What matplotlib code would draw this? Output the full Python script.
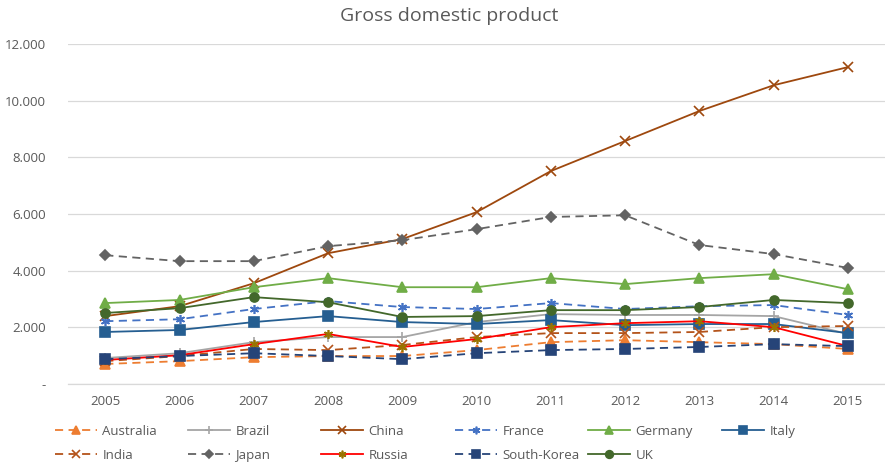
import matplotlib
matplotlib.use("Agg")
import matplotlib.pyplot as plt
from matplotlib.ticker import FuncFormatter

years = ["2005", "2006", "2007", "2008", "2009", "2010", "2011", "2012", "2013", "2014", "2015"]

australia = [710, 810, 950, 990, 990, 1200, 1480, 1550, 1480, 1410, 1240]
brazil = [920, 1090, 1480, 1660, 1660, 2190, 2470, 2440, 2440, 2400, 1770]
china = [2400, 2750, 3560, 4620, 5120, 6070, 7520, 8580, 9640, 10550, 11190]
france = [2220, 2290, 2650, 2930, 2720, 2650, 2860, 2650, 2750, 2790, 2440]
germany = [2860, 2970, 3420, 3740, 3420, 3420, 3740, 3530, 3740, 3880, 3350]
italy = [1840, 1910, 2190, 2400, 2190, 2120, 2260, 2080, 2120, 2120, 1800]
india = [810, 990, 1240, 1200, 1380, 1660, 1800, 1800, 1840, 2010, 2050]
japan = [4550, 4340, 4340, 4870, 5080, 5470, 5900, 5960, 4910, 4590, 4100]
russia = [850, 1020, 1410, 1770, 1310, 1590, 2010, 2150, 2220, 2010, 1340]
south_korea = [880, 990, 1090, 990, 880, 1090, 1200, 1240, 1310, 1410, 1340]
uk = [2510, 2680, 3070, 2890, 2370, 2400, 2610, 2610, 2720, 2970, 2860]

plt.rcParams['font.family'] = ['Open Sans', 'DejaVu Sans']

dash = (0, (4.5, 3))
# name, values, color, linestyle, marker, marker color
series = [
    ("Australia", australia, "#ED7D31", dash, "^", "#ED7D31"),
    ("Brazil", brazil, "#A5A5A5", "-", "+", "#A5A5A5"),
    ("China", china, "#9E480E", "-", "x", "#9E480E"),
    ("France", france, "#4472C4", dash, (6, 2, 0), "#4472C4"),
    ("Germany", germany, "#70AD47", "-", "^", "#70AD47"),
    ("Italy", italy, "#255E91", "-", "s", "#255E91"),
    ("India", india, "#B4531A", dash, "x", "#B4531A"),
    ("Japan", japan, "#636363", dash, "D", "#636363"),
    ("Russia", russia, "#FF0000", "-", (6, 2, 0), "#997300"),
    ("South-Korea", south_korea, "#264478", dash, "s", "#264478"),
    ("UK", uk, "#43682B", "-", "o", "#43682B"),
]

fig = plt.figure(figsize=(8.85, 4.65), dpi=100)
ax = fig.add_axes([0.077, 0.174, 0.923, 0.731])

x = list(range(len(years)))
handles = {}
for name, vals, col, ls, mk, mcol in series:
    ms = 6.5
    if mk == "D":
        ms = 5
    elif mk == "s":
        ms = 7
    h, = ax.plot(x, vals, color=col, linestyle=ls, linewidth=1.3,
                 marker=mk, markersize=ms, markerfacecolor=mcol,
                 markeredgecolor=mcol, markeredgewidth=1.2, label=name)
    handles[name] = h

ax.set_xlim(-0.5, len(years) - 0.5)
ax.set_ylim(0, 12000)
ax.set_yticks(range(0, 12001, 2000))
ax.yaxis.set_major_formatter(FuncFormatter(
    lambda v, p: "-" if v == 0 else "{:,.0f}".format(v).replace(",", ".")))
ax.set_xticks(x)
ax.set_xticklabels(years)
ax.tick_params(length=0, labelsize=9.5, labelcolor="#595959", pad=8)
ax.tick_params(axis="y", pad=16)
ax.grid(axis="y", color="#D9D9D9", linewidth=0.9)
ax.set_axisbelow(True)
for s in ["top", "right", "left"]:
    ax.spines[s].set_visible(False)
ax.spines["bottom"].set_color("#D9D9D9")
ax.spines["bottom"].set_linewidth(0.9)

fig.suptitle("Gross domestic product", x=0.508, y=0.984, fontsize=14, color="#595959")

# legend laid out like Excel: equal-width columns, two rows
columns = [["Australia", "India"], ["Brazil", "Japan"], ["China", "Russia"],
           ["France", "South-Korea"], ["Germany", "UK"], ["Italy"]]
col_x = [55, 188, 321, 455, 588, 722]
for names, px in zip(columns, col_x):
    leg = fig.legend([handles[n] for n in names], names,
                     loc="upper left", bbox_to_anchor=(px / 885, 0.086),
                     frameon=False, fontsize=9.5, handlelength=3.2,
                     handletextpad=0.4, labelspacing=0.82, markerscale=0.85,
                     borderaxespad=0, borderpad=0)
    for t in leg.get_texts():
        t.set_color("#595959")

fig.savefig("out.png", dpi=100)
